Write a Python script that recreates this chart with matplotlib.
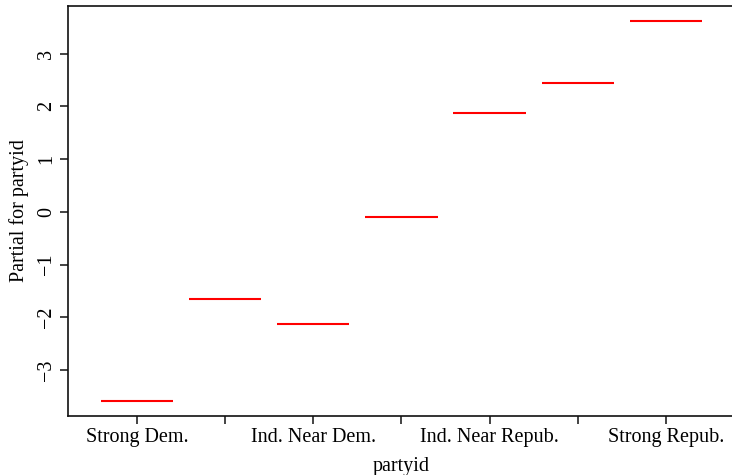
import matplotlib
matplotlib.use("Agg")
import matplotlib.pyplot as plt
import numpy as np

# Factor levels of partyid and their partial effects
categories = ["Strong Dem.", "Not Str Dem.", "Ind. Near Dem.", "Independent",
              "Ind. Near Repub.", "Not Str Repub.", "Strong Repub."]
partials = [-3.58, -1.66, -2.12, -0.10, 1.88, 2.45, 3.61]
# R drops overlapping axis labels, so only every other level is printed
shown_labels = ["Strong Dem.", "", "Ind. Near Dem.", "", "Ind. Near Repub.", "", "Strong Repub."]

plt.rcParams["font.family"] = ["Liberation Serif", "DejaVu Serif"]

fig = plt.figure(figsize=(7.32, 4.75), dpi=100)
ax = fig.add_axes([0.0929, 0.1248, 0.911, 0.8619])

pos = np.arange(1, len(categories) + 1)
half = 0.41
ax.hlines(partials, pos - half, pos + half, colors="#ff0000", linewidth=1.5)

ax.set_xlim(0.216, 7.784)
lo, hi = min(partials), max(partials)
pad = 0.04 * (hi - lo)
ax.set_ylim(lo - pad, hi + pad)

ax.set_xticks(pos)
ax.set_xticklabels(shown_labels)
ax.set_yticks([-3, -2, -1, 0, 1, 2, 3])
ax.set_yticklabels(["\u22123", "\u22122", "\u22121", "0", "1", "2", "3"],
                   rotation=90, va="center")

for s in ax.spines.values():
    s.set_linewidth(1.2)
    s.set_color("#111111")

ax.tick_params(axis="both", direction="out", length=5.8, width=1.1,
               labelsize=14.5, color="#111111")
ax.tick_params(axis="y", pad=2.5)
ax.tick_params(axis="x", pad=3)

ax.set_xlabel("partyid", fontsize=14.5, labelpad=7)
ax.set_ylabel("Partial for partyid", fontsize=14.5, labelpad=6)

fig.savefig("out.png", dpi=100)
